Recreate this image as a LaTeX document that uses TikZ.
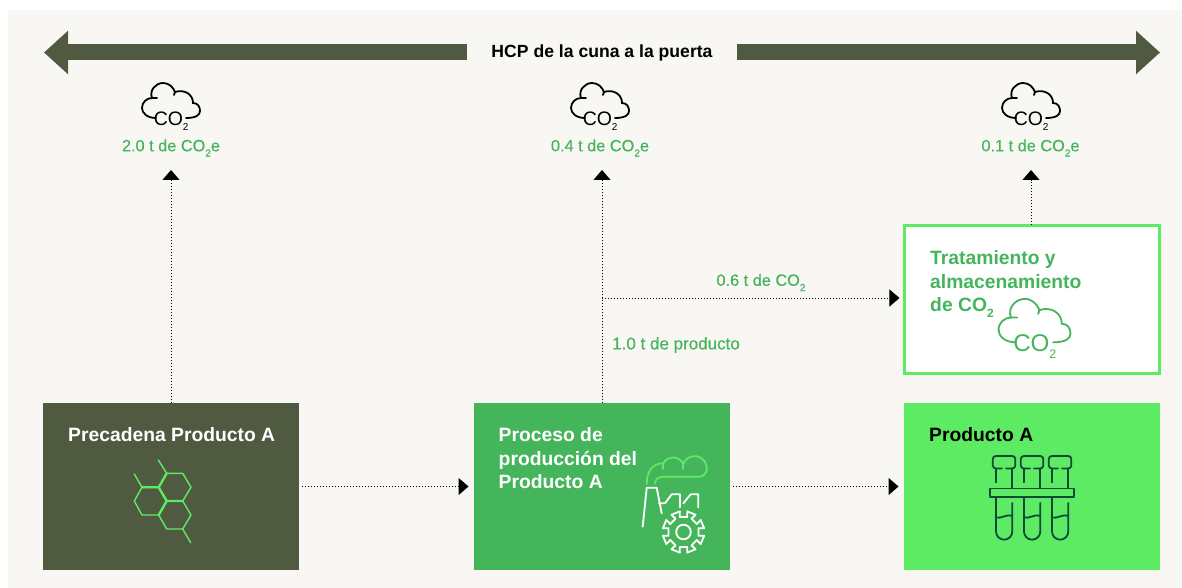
\documentclass[tikz,border=0pt]{standalone}
\usepackage{fontspec}
\usepackage{xcolor}
\setmainfont{Liberation Sans}
\newfontfamily\amountfont[FakeBold=0.3]{Liberation Sans}
\usetikzlibrary{arrows.meta}
\definecolor{paper}{RGB}{248,247,243}
\definecolor{darkolive}{RGB}{79,90,64}
\definecolor{midgreen}{RGB}{69,181,92}
\definecolor{brightgreen}{RGB}{94,235,100}
\definecolor{darkteal}{RGB}{14,74,58}
\newcommand{\lowtwo}{\raisebox{-0.32em}{\fontsize{0.62em}{0.62em}\selectfont 2}}
\tikzset{
	box/.style={minimum width=256pt,minimum height=167pt,inner sep=0pt,outer sep=0pt},
	boxtitle/.style={anchor=north west,align=left,inner sep=0pt,font=\fontsize{19.3}{23.5}\selectfont\bfseries},
	amount/.style={text=midgreen,inner sep=0pt,font=\fontsize{16.3}{18}\selectfont\amountfont},
	flow/.style={dotted,line width=1pt,-{Triangle[length=10pt,width=17pt]},shorten >=5.5pt,shorten <=3pt},
	rise/.style={dotted,line width=1pt,-{Triangle[length=10pt,width=17pt]}},
	bararrow/.style={line width=16pt,darkolive,-{Triangle[length=24pt,width=42pt]}},
	icon/.style={line width=1.8pt,line cap=round,line join=round},
	pics/cloudco/.style={code={
		\draw[pic actions,line width=1.8pt,line cap=round]
			(-15,18) .. controls (-24,18) and (-29,13) .. (-29,8)
			.. controls (-29,2) and (-24,-2) .. (-19,-2)
			.. controls (-22,-10) and (-15,-17) .. (-8,-17)
			.. controls (-2,-17) and (2,-13) .. (4,-8)
			.. controls (13,-11) and (22,-6) .. (22,3)
			.. controls (27,3) and (29,7) .. (29,11)
			.. controls (29,15) and (25,18) .. (15,18);
		\draw[pic actions,line width=1.8pt,line cap=round] (-19,-2) -- (-14,-2) (4,-8) -- (3,-5);
		\node[inner sep=0pt,text=.,transform shape,font=\fontsize{19.5}{19.5}\selectfont] (#1) at (-2.5,18.5) {CO};
		\node[inner sep=0pt,text=.,transform shape,font=\fontsize{10}{10}\selectfont] at (14.7,27.5) {2};
	}},
}

\begin{document}
\begin{tikzpicture}[x=1pt,y=-1pt]
	\useasboundingbox (0,0) rectangle (1182,588);
	% Paper
	\fill[white] (0,0) rectangle (1182,588);
	\fill[paper] (8,10) rectangle (1182,588);

	% Top arrow
	\node[minimum width=269pt,inner sep=0pt,font=\fontsize{17.6}{20}\selectfont\bfseries] (hcp) at (602,53) {HCP de la cuna a la puerta};
	\coordinate (hcpleft) at (44,52.5);
	\coordinate (hcpright) at (1160,52.5);
	\draw[bararrow] (hcp.west |- hcpleft) -- (hcpleft);
	\draw[bararrow] (hcp.east |- hcpright) -- (hcpright);

	% Amounts
	\node[amount] (amountone) at (171,148) {2.0 t de CO\lowtwo e};
	\node[amount] (amounttwo) at (600,148) {0.4 t de CO\lowtwo e};
	\node[amount] (amountthree) at (1030.5,148) {0.1 t de CO\lowtwo e};
	\node[amount] (amountco) at (761,282.5) {0.6 t de CO\lowtwo};
	\node[amount,font=\fontsize{17}{18}\selectfont\amountfont] (amountproduct) at (676,345) {1.0 t de producto};
	\coordinate (tipone) at (171,170);
	\coordinate (tiptwo) at (602,170);
	\coordinate (tipthree) at (1031,170);

	% Boxes
	\node[box,fill=darkolive] (precadena) at (171,486.5) {};
	\node[box,fill=midgreen] (proceso) at (602,486.5) {};
	\node[box,fill=brightgreen] (producto) at (1032,486.5) {};
	\node[box,minimum width=254.5pt,minimum height=148pt,draw=brightgreen,line width=3pt,fill=white] (tratamiento) at (1032.2,299) {};
	\node[boxtitle,text=white] (precadenatitle) at (68,427.5) {Precadena Producto A};
	\node[boxtitle,text=white] (procesotitle) at (498.5,427.5) {Proceso de\\producción del\\Producto A};
	\node[boxtitle,text=black] (productotitle) at (929,427.5) {Producto A};
	\node[boxtitle,text=midgreen] (tratamientotitle) at (930,250.5) {Tratamiento y\\almacenamiento\\de CO\lowtwo};

	% Clouds
	\pic[color=black] at (171,100) {cloudco=cloudone};
	\pic[color=black] at (600,100) {cloudco=cloudtwo};
	\pic[color=black] at (1031,100) {cloudco=cloudthree};
	\pic[color=midgreen,scale=1.24] at (1034.5,320) {cloudco=cloudfour};

	% Connectors
	\coordinate (branch) at (602,298);
	\draw[rise] (precadena.north) -- (tipone);
	\draw[rise] (proceso.north) -- (tiptwo);
	\draw[rise] (tratamiento.north -| tipthree) -- (tipthree);
	\draw[flow] (precadena.east) -- (proceso.west);
	\draw[flow] (proceso.east) -- (producto.west);
	\draw[flow,shorten <=0pt] (branch) -- (tratamiento.west |- branch);

	% Molecule
	\draw[icon,line width=1.4pt,brightgreen] (166.7,473.3) -- (182.7,473.3) -- (191,487.3) -- (182.7,501) -- (166.7,501) -- (158.7,487.3) -- cycle;
	\draw[icon,line width=1.4pt,brightgreen] (142,487.3) -- (158.7,487.3) -- (166.7,501) -- (158.7,515) -- (142,515) -- (134.3,501) -- cycle;
	\draw[icon,line width=1.4pt,brightgreen] (166.7,501) -- (182.7,501) -- (191,515) -- (182.7,529) -- (166.7,529) -- (158.7,515) -- cycle;
	\draw[icon,line width=1.4pt,brightgreen] (166.7,473.3) -- (158.3,460) (142,487.3) -- (134.3,474) (182.7,529) -- (190.7,542.7);
	\draw[icon,line width=2.3pt,brightgreen] (142,487.3) -- (158.7,487.3) -- (166.7,473.3) (158.7,487.3) -- (166.7,501) -- (182.7,501) (166.7,501) -- (158.7,515);

	% Factory
	\draw[icon,brightgreen] (646.7,484) .. controls (646.7,472) and (652,463.3) .. (663.3,463.3)
		.. controls (667,456) and (679,455) .. (683.3,464)
		.. controls (686,455) and (700,453) .. (705,462)
		.. controls (709,470) and (706,476.7) .. (698,476.7)
		-- (663.3,476.7) .. controls (658,476.7) and (655,480) .. (655,483.5);
	\draw[icon,brightgreen] (663.3,463.3) -- (663.3,469) (683.3,464) -- (683.3,469);
	\draw[icon,white] (642.7,526.7) -- (646.7,487.7) -- (656.7,487.7) -- (661.7,513.3);
	\draw[icon,white] (659,503.3) -- (665,503.3) -- (671.7,494.3) -- (680,494.3) -- (680,507.3);
	\draw[icon,white] (683.3,503.3) -- (690.7,494.3) -- (698.3,494.3) -- (698.3,507.3);
	\begin{scope}[shift={(683.5,532)}]
		\draw[icon,white] (0,0) circle (7.3);
		\draw[icon,white] (-14:15.5) \foreach \a in {0,45,...,315} {
			-- (\a+14:15.5) -- (\a+10:21) -- (\a+35:21) -- (\a+31:15.5) } -- cycle;
	\end{scope}

	% Test tubes
	\draw[icon,darkteal] (990.3,488.5) rectangle (1074,497);
	\foreach \x in {0,28,56} {
		\begin{scope}[xshift=\x pt]
			\draw[icon,darkteal,rounded corners=3pt] (1002,468.5) -- (992.8,468.5) -- (992.8,456) -- (1015.3,456) -- (1015.3,468.5) -- (1006,468.5);
			\draw[icon,darkteal] (996,468.5) -- (996,482.3);
			\draw[icon,darkteal] (1012.3,468.5) -- (1012.3,488.3);
			\draw[icon,darkteal] (996,497) -- (996,531.5) arc (180:0:8.15) -- (1012.3,503);
			\draw[icon,darkteal] (996,517.5) .. controls (1001,519) and (1006,514) .. (1012.3,515.7);
		\end{scope}
	}
\end{tikzpicture}
\end{document}
